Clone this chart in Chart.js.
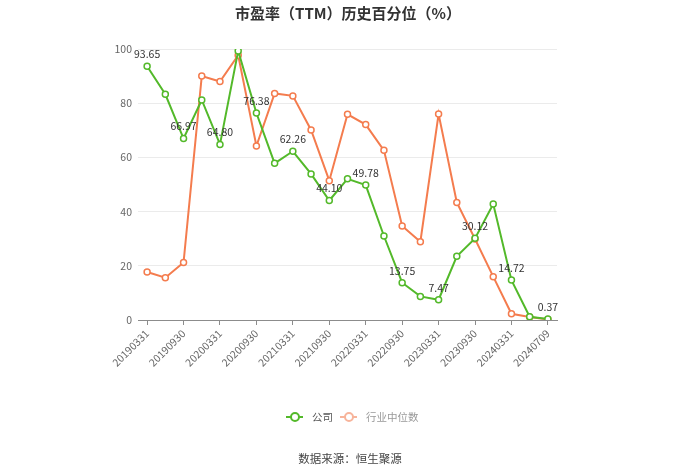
<!DOCTYPE html>
<html>
<head>
<meta charset="utf-8">
<script src="https://cdn.jsdelivr.net/npm/chart.js@4.4.1/dist/chart.umd.min.js"></script>
<style>
  html, body { margin: 0; padding: 0; background: #fff; }
  #wrap { position: relative; width: 700px; height: 474px; font-family: "Noto Sans CJK SC", sans-serif; }
  #c { position: absolute; left: 0; top: 0; }
  .title { position: absolute; left: 0; width: 696px; top: 2px; text-align: center; font-size: 15px; font-weight: bold; color: #333; }
  .legend { position: absolute; top: 408px; left: 286px; font-size: 10.5px; white-space: nowrap; }
  .item { position: absolute; top: 0; height: 18px; line-height: 18px; }
  .icon { position: absolute; top: 8px; width: 17px; height: 2px; }
  .icon i { position: absolute; left: 4px; top: -4px; width: 6px; height: 6px; border-radius: 50%; background: #fff; border: 2px solid; }
  .source { position: absolute; left: 0; width: 700px; top: 450px; text-align: center; font-size: 11.5px; color: #444; }
</style>
</head>
<body>
<div id="wrap">
  <canvas id="c" width="700" height="474"></canvas>
  <div class="title">市盈率（TTM）历史百分位（%）</div>
  <div class="legend">
    <div class="item" style="left:0">
      <span class="icon" style="left:0;background:#53b92a"><i style="border-color:#53b92a"></i></span>
      <span style="position:absolute;left:26px;color:#555">公司</span>
    </div>
    <div class="item" style="left:54px">
      <span class="icon" style="left:0;background:#f7b49b"><i style="border-color:#f7b49b"></i></span>
      <span style="position:absolute;left:26px;color:#999">行业中位数</span>
    </div>
  </div>
  <div class="source">数据来源：恒生聚源</div>
</div>
<script>
const categories = [
  "20190331", "20190630", "20190930", "20191231", "20200331", "20200630",
  "20200930", "20201231", "20210331", "20210630", "20210930", "20211231",
  "20220331", "20220630", "20220930", "20221231", "20230331", "20230630",
  "20230930", "20231231", "20240331", "20240630", "20240709"
];
const companyValues = [
  93.65, 83.3, 66.97, 81.2, 64.80, 99.3,
  76.38, 57.8, 62.26, 53.9, 44.10, 52.1,
  49.78, 31.0, 13.75, 8.7, 7.47, 23.5,
  30.12, 42.8, 14.72, 1.2, 0.37
];
const industryValues = [
  17.7, 15.6, 21.2, 90.0, 88.0, 97.7,
  64.2, 83.6, 82.7, 70.1, 51.4, 75.9,
  72.1, 62.6, 34.7, 28.9, 76.0, 43.4,
  29.9, 16.0, 2.3, 1.1, 0.2
];
const yTicks = [0, 20, 40, 60, 80, 100];

Chart.defaults.font.family = '"Noto Sans CJK SC", sans-serif';
Chart.defaults.font.size = 10.5;

// value labels on every other company point
const valueLabels = {
  id: "valueLabels",
  afterDatasetsDraw(chart) {
    const ctx = chart.ctx;
    const meta = chart.getDatasetMeta(0);
    ctx.save();
    ctx.font = '10.5px "Noto Sans CJK SC", sans-serif';
    ctx.fillStyle = "#333";
    ctx.textAlign = "center";
    ctx.textBaseline = "middle";
    meta.data.forEach((pt, i) => {
      if (i % 2 !== 0) return;
      ctx.fillText(companyValues[i].toFixed(2), pt.x, pt.y - 12);
    });
    ctx.restore();
  }
};

new Chart(document.getElementById("c"), {
  type: "line",
  data: {
    labels: categories,
    datasets: [
      {
        label: "公司",
        data: companyValues,
        borderColor: "#53b92a",
        backgroundColor: "#fff",
        borderWidth: 2,
        pointRadius: 3,
        pointBorderWidth: 1.5,
        pointBackgroundColor: "#fff",
        tension: 0,
      },
      {
        label: "行业中位数",
        data: industryValues,
        borderColor: "#f47c4e",
        backgroundColor: "#fff",
        borderWidth: 2,
        pointRadius: 3,
        pointBorderWidth: 1.5,
        pointBackgroundColor: "#fff",
        tension: 0,
      },
    ],
  },
  options: {
    responsive: false,
    animation: false,
    layout: { padding: { top: 49, right: 143, bottom: 94, left: 0 } },
    plugins: {
      legend: { display: false },
      title: { display: false },
      tooltip: { enabled: false },
    },
    scales: {
      x: {
        offset: true,
        afterFit: (s) => { s.height = 60; },
        border: { color: "#8c8c8c" },
        grid: { drawOnChartArea: false, offset: false, tickLength: 5, color: "#8c8c8c" },
        ticks: {
          autoSkip: false,
          minRotation: 45,
          maxRotation: 45,
          color: "#666",
          padding: 2,
          callback: (v, i) => (i % 2 === 0 ? categories[i] : null),
        },
      },
      y: {
        min: 0,
        max: 100,
        afterFit: (s) => { s.width = 138; },
        afterBuildTicks: (s) => { s.ticks = yTicks.map((v) => ({ value: v })); },
        border: { display: false },
        grid: { color: "#ebebeb", drawTicks: false },
        ticks: { color: "#666", padding: 6 },
      },
    },
  },
  plugins: [valueLabels],
});
</script>
</body>
</html>
